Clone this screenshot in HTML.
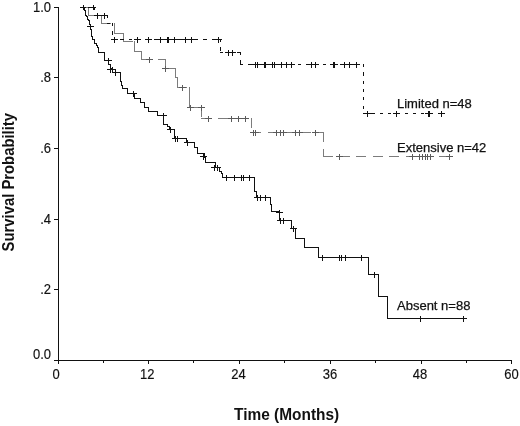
<!DOCTYPE html>
<html><head><meta charset="utf-8"><style>
html,body{margin:0;padding:0;background:#fff;width:520px;height:426px;overflow:hidden}
svg{display:block;filter:grayscale(1)}
text{font-family:"Liberation Sans",sans-serif}
</style></head><body>
<svg width="520" height="426" viewBox="0 0 520 426">
<g shape-rendering="crispEdges" stroke-width="1">
<line x1="58.5" y1="7" x2="58.5" y2="361" stroke="#111" stroke-width="1"/>
<line x1="54" y1="360.5" x2="512" y2="360.5" stroke="#111" stroke-width="1"/>
<line x1="54" y1="7.5" x2="58" y2="7.5" stroke="#111" stroke-width="1"/>
<line x1="54" y1="77.5" x2="58" y2="77.5" stroke="#111" stroke-width="1"/>
<line x1="54" y1="148.5" x2="58" y2="148.5" stroke="#111" stroke-width="1"/>
<line x1="54" y1="219.5" x2="58" y2="219.5" stroke="#111" stroke-width="1"/>
<line x1="54" y1="289.5" x2="58" y2="289.5" stroke="#111" stroke-width="1"/>
<line x1="103.5" y1="360" x2="103.5" y2="363" stroke="#111" stroke-width="1"/>
<line x1="193.5" y1="360" x2="193.5" y2="363" stroke="#111" stroke-width="1"/>
<line x1="284.5" y1="360" x2="284.5" y2="363" stroke="#111" stroke-width="1"/>
<line x1="375.5" y1="360" x2="375.5" y2="363" stroke="#111" stroke-width="1"/>
<line x1="466.5" y1="360" x2="466.5" y2="363" stroke="#111" stroke-width="1"/>
<line x1="58.5" y1="360" x2="58.5" y2="364" stroke="#111" stroke-width="1"/>
<line x1="148.5" y1="360" x2="148.5" y2="364" stroke="#111" stroke-width="1"/>
<line x1="239.5" y1="360" x2="239.5" y2="364" stroke="#111" stroke-width="1"/>
<line x1="330.5" y1="360" x2="330.5" y2="364" stroke="#111" stroke-width="1"/>
<line x1="421.5" y1="360" x2="421.5" y2="364" stroke="#111" stroke-width="1"/>
<line x1="511.5" y1="360" x2="511.5" y2="364" stroke="#111" stroke-width="1"/>
<line x1="80.5" y1="7.5" x2="88.5" y2="7.5" stroke="#7c7c7c" stroke-linecap="square" stroke-dasharray="9 7.5"/>
<line x1="88.5" y1="7.5" x2="88.5" y2="15.5" stroke="#7c7c7c" stroke-linecap="square" stroke-dasharray="9 7.5"/>
<line x1="88.5" y1="15.5" x2="101.5" y2="15.5" stroke="#7c7c7c" stroke-linecap="square" stroke-dasharray="9 7.5"/>
<line x1="101.5" y1="15.5" x2="101.5" y2="23.5" stroke="#7c7c7c" stroke-linecap="square" stroke-dasharray="9 7.5"/>
<line x1="101.5" y1="23.5" x2="114.5" y2="23.5" stroke="#7c7c7c" stroke-linecap="square" stroke-dasharray="9 7.5"/>
<line x1="114.5" y1="23.5" x2="114.5" y2="33.5" stroke="#7c7c7c" stroke-linecap="square" stroke-dasharray="9 7.5"/>
<line x1="114.5" y1="33.5" x2="123.5" y2="33.5" stroke="#7c7c7c" stroke-linecap="square" stroke-dasharray="9 7.5"/>
<line x1="123.5" y1="33.5" x2="123.5" y2="41.5" stroke="#7c7c7c" stroke-linecap="square" stroke-dasharray="9 7.5"/>
<line x1="123.5" y1="41.5" x2="134.5" y2="41.5" stroke="#7c7c7c" stroke-linecap="square" stroke-dasharray="9 7.5"/>
<line x1="134.5" y1="41.5" x2="134.5" y2="51.5" stroke="#7c7c7c" stroke-linecap="square" stroke-dasharray="9 7.5"/>
<line x1="134.5" y1="51.5" x2="141.5" y2="51.5" stroke="#7c7c7c" stroke-linecap="square" stroke-dasharray="9 7.5"/>
<line x1="141.5" y1="51.5" x2="141.5" y2="59.5" stroke="#7c7c7c" stroke-linecap="square" stroke-dasharray="9 7.5"/>
<line x1="141.5" y1="59.5" x2="165.5" y2="59.5" stroke="#7c7c7c" stroke-linecap="square" stroke-dasharray="9 7.5"/>
<line x1="165.5" y1="59.5" x2="165.5" y2="68.5" stroke="#7c7c7c" stroke-linecap="square" stroke-dasharray="9 7.5"/>
<line x1="165.5" y1="68.5" x2="175.5" y2="68.5" stroke="#7c7c7c" stroke-linecap="square" stroke-dasharray="9 7.5"/>
<line x1="175.5" y1="68.5" x2="175.5" y2="77.5" stroke="#7c7c7c" stroke-linecap="square" stroke-dasharray="9 7.5"/>
<line x1="175.5" y1="77.5" x2="177.5" y2="77.5" stroke="#7c7c7c" stroke-linecap="square" stroke-dasharray="9 7.5"/>
<line x1="177.5" y1="77.5" x2="177.5" y2="87.5" stroke="#7c7c7c" stroke-linecap="square" stroke-dasharray="9 7.5"/>
<line x1="177.5" y1="87.5" x2="189.5" y2="87.5" stroke="#7c7c7c" stroke-linecap="square" stroke-dasharray="9 7.5"/>
<line x1="189.5" y1="87.5" x2="189.5" y2="97.5" stroke="#7c7c7c" stroke-linecap="square" stroke-dasharray="9 7.5"/>
<line x1="189.5" y1="97.5" x2="189.5" y2="107.5" stroke="#7c7c7c" stroke-linecap="square" stroke-dasharray="9 7.5"/>
<line x1="189.5" y1="107.5" x2="201.5" y2="107.5" stroke="#7c7c7c" stroke-linecap="square" stroke-dasharray="9 7.5"/>
<line x1="201.5" y1="107.5" x2="201.5" y2="118.5" stroke="#7c7c7c" stroke-linecap="square" stroke-dasharray="9 7.5"/>
<line x1="201.5" y1="118.5" x2="251.5" y2="118.5" stroke="#7c7c7c" stroke-linecap="square" stroke-dasharray="9 7.5"/>
<line x1="251.5" y1="118.5" x2="251.5" y2="132.5" stroke="#7c7c7c" stroke-linecap="square" stroke-dasharray="9 7.5"/>
<line x1="251.5" y1="132.5" x2="323.5" y2="132.5" stroke="#7c7c7c" stroke-linecap="square" stroke-dasharray="9 7.5"/>
<line x1="323.5" y1="132.5" x2="323.5" y2="156.5" stroke="#7c7c7c" stroke-linecap="square" stroke-dasharray="9 7.5"/>
<line x1="323.5" y1="156.5" x2="449.5" y2="156.5" stroke="#7c7c7c" stroke-linecap="square" stroke-dasharray="9 7.5"/>
<path d="M146 59.5H153M149.5 57V63" stroke="#5a5a5a" stroke-width="1" fill="none"/>
<path d="M162 68.5H169M165.5 66V72" stroke="#5a5a5a" stroke-width="1" fill="none"/>
<path d="M179 87.5H186M182.5 85V91" stroke="#5a5a5a" stroke-width="1" fill="none"/>
<path d="M187 107.5H194M190.5 105V111" stroke="#5a5a5a" stroke-width="1" fill="none"/>
<path d="M198 107.5H205M201.5 105V111" stroke="#5a5a5a" stroke-width="1" fill="none"/>
<path d="M205 118.5H212M208.5 116V122" stroke="#5a5a5a" stroke-width="1" fill="none"/>
<path d="M228 118.5H235M231.5 116V122" stroke="#5a5a5a" stroke-width="1" fill="none"/>
<path d="M235 118.5H242M238.5 116V122" stroke="#5a5a5a" stroke-width="1" fill="none"/>
<path d="M242 118.5H249M245.5 116V122" stroke="#5a5a5a" stroke-width="1" fill="none"/>
<path d="M250 132.5H257M253.5 130V136" stroke="#5a5a5a" stroke-width="1" fill="none"/>
<path d="M252 132.5H259M255.5 130V136" stroke="#5a5a5a" stroke-width="1" fill="none"/>
<path d="M273 132.5H280M276.5 130V136" stroke="#5a5a5a" stroke-width="1" fill="none"/>
<path d="M277 132.5H284M280.5 130V136" stroke="#5a5a5a" stroke-width="1" fill="none"/>
<path d="M280 132.5H287M283.5 130V136" stroke="#5a5a5a" stroke-width="1" fill="none"/>
<path d="M292 132.5H299M295.5 130V136" stroke="#5a5a5a" stroke-width="1" fill="none"/>
<path d="M296 132.5H303M299.5 130V136" stroke="#5a5a5a" stroke-width="1" fill="none"/>
<path d="M312 132.5H319M315.5 130V136" stroke="#5a5a5a" stroke-width="1" fill="none"/>
<path d="M336 156.5H343M339.5 154V160" stroke="#5a5a5a" stroke-width="1" fill="none"/>
<path d="M409 156.5H416M412.5 154V160" stroke="#5a5a5a" stroke-width="1" fill="none"/>
<path d="M416 156.5H423M419.5 154V160" stroke="#5a5a5a" stroke-width="1" fill="none"/>
<path d="M419 156.5H426M422.5 154V160" stroke="#5a5a5a" stroke-width="1" fill="none"/>
<path d="M422 156.5H429M425.5 154V160" stroke="#5a5a5a" stroke-width="1" fill="none"/>
<path d="M424 156.5H431M427.5 154V160" stroke="#5a5a5a" stroke-width="1" fill="none"/>
<path d="M427 156.5H434M430.5 154V160" stroke="#5a5a5a" stroke-width="1" fill="none"/>
<path d="M446 156.5H453M449.5 154V160" stroke="#5a5a5a" stroke-width="1" fill="none"/>
<path d="M80.5 7.5L84.5 7.5L84.5 10.5L85.5 10.5L85.5 15.5L86.5 15.5L86.5 16.5L87.5 16.5L87.5 19.5L88.5 19.5L88.5 20.5L89.5 20.5L89.5 24.5L90.5 24.5L90.5 29.5L91.5 29.5L91.5 36.5L92.5 36.5L92.5 39.5L94.5 39.5L94.5 43.5L96.5 43.5L96.5 45.5L97.5 45.5L97.5 47.5L98.5 47.5L98.5 52.5L104.5 52.5L104.5 60.5L108.5 60.5L108.5 64.5L110.5 64.5L110.5 68.5L112.5 68.5L112.5 72.5L120.5 72.5L120.5 81.5L121.5 81.5L121.5 85.5L122.5 85.5L122.5 88.5L127.5 88.5L127.5 93.5L134.5 93.5L134.5 98.5L140.5 98.5L140.5 102.5L144.5 102.5L144.5 107.5L148.5 107.5L148.5 111.5L157.5 111.5L157.5 115.5L163.5 115.5L163.5 124.5L167.5 124.5L167.5 126.5L169.5 126.5L169.5 129.5L174.5 129.5L174.5 138.5L186.5 138.5L186.5 142.5L194.5 142.5L194.5 147.5L197.5 147.5L197.5 153.5L204.5 153.5L204.5 157.5L205.5 157.5L205.5 162.5L215.5 162.5L215.5 167.5L219.5 167.5L219.5 171.5L221.5 171.5L221.5 173.5L222.5 173.5L222.5 177.5L254.5 177.5L254.5 191.5L256.5 191.5L256.5 197.5L270.5 197.5L270.5 204.5L271.5 204.5L271.5 211.5L279.5 211.5L279.5 220.5L291.5 220.5L291.5 228.5L295.5 228.5L295.5 238.5L304.5 238.5L304.5 247.5L318.5 247.5L318.5 257.5L368.5 257.5L368.5 274.5L378.5 274.5L378.5 296.5L387.5 296.5L387.5 318.5L465.5 318.5" stroke="#111" stroke-linecap="square" fill="none"/>
<path d="M87 26.5H94M90.5 24V30" stroke="#111" stroke-width="1" fill="none"/>
<path d="M105 60.5H112M108.5 58V64" stroke="#111" stroke-width="1" fill="none"/>
<path d="M107 69.5H114M110.5 67V73" stroke="#111" stroke-width="1" fill="none"/>
<path d="M109 69.5H116M112.5 67V73" stroke="#111" stroke-width="1" fill="none"/>
<path d="M112 72.5H119M115.5 70V76" stroke="#111" stroke-width="1" fill="none"/>
<path d="M130 93.5H137M133.5 91V97" stroke="#111" stroke-width="1" fill="none"/>
<path d="M160 115.5H167M163.5 113V119" stroke="#111" stroke-width="1" fill="none"/>
<path d="M167 129.5H174M170.5 127V133" stroke="#111" stroke-width="1" fill="none"/>
<path d="M172 138.5H179M175.5 136V142" stroke="#111" stroke-width="1" fill="none"/>
<path d="M174 138.5H181M177.5 136V142" stroke="#111" stroke-width="1" fill="none"/>
<path d="M184 142.5H191M187.5 140V146" stroke="#111" stroke-width="1" fill="none"/>
<path d="M200 156.5H207M203.5 154V160" stroke="#111" stroke-width="1" fill="none"/>
<path d="M211 167.5H218M214.5 165V171" stroke="#111" stroke-width="1" fill="none"/>
<path d="M214 167.5H221M217.5 165V171" stroke="#111" stroke-width="1" fill="none"/>
<path d="M223 177.5H230M226.5 175V181" stroke="#111" stroke-width="1" fill="none"/>
<path d="M231 177.5H238M234.5 175V181" stroke="#111" stroke-width="1" fill="none"/>
<path d="M238 177.5H245M241.5 175V181" stroke="#111" stroke-width="1" fill="none"/>
<path d="M240 177.5H247M243.5 175V181" stroke="#111" stroke-width="1" fill="none"/>
<path d="M246 177.5H253M249.5 175V181" stroke="#111" stroke-width="1" fill="none"/>
<path d="M254 197.5H261M257.5 195V201" stroke="#111" stroke-width="1" fill="none"/>
<path d="M257 197.5H264M260.5 195V201" stroke="#111" stroke-width="1" fill="none"/>
<path d="M262 197.5H269M265.5 195V201" stroke="#111" stroke-width="1" fill="none"/>
<path d="M276 212.5H283M279.5 210V216" stroke="#111" stroke-width="1" fill="none"/>
<path d="M277 220.5H284M280.5 218V224" stroke="#111" stroke-width="1" fill="none"/>
<path d="M280 220.5H287M283.5 218V224" stroke="#111" stroke-width="1" fill="none"/>
<path d="M290 228.5H297M293.5 226V232" stroke="#111" stroke-width="1" fill="none"/>
<path d="M319 257.5H326M322.5 255V261" stroke="#111" stroke-width="1" fill="none"/>
<path d="M336 257.5H343M339.5 255V261" stroke="#111" stroke-width="1" fill="none"/>
<path d="M338 257.5H345M341.5 255V261" stroke="#111" stroke-width="1" fill="none"/>
<path d="M342 257.5H349M345.5 255V261" stroke="#111" stroke-width="1" fill="none"/>
<path d="M358 257.5H365M361.5 255V261" stroke="#111" stroke-width="1" fill="none"/>
<path d="M371 274.5H378M374.5 272V278" stroke="#111" stroke-width="1" fill="none"/>
<path d="M417 318.5H424M420.5 316V322" stroke="#111" stroke-width="1" fill="none"/>
<path d="M460 318.5H467M463.5 316V322" stroke="#111" stroke-width="1" fill="none"/>
<line x1="80.5" y1="7.5" x2="94.5" y2="7.5" stroke="#111" stroke-linecap="square" stroke-dasharray="2.2 6.1"/>
<line x1="94.5" y1="7.5" x2="94.5" y2="15.5" stroke="#111" stroke-linecap="square" stroke-dasharray="2.2 6.1"/>
<line x1="94.5" y1="15.5" x2="107.5" y2="15.5" stroke="#111" stroke-linecap="square" stroke-dasharray="2.2 6.1"/>
<line x1="107.5" y1="15.5" x2="107.5" y2="23.5" stroke="#111" stroke-linecap="square" stroke-dasharray="2.2 6.1"/>
<line x1="107.5" y1="23.5" x2="112.5" y2="23.5" stroke="#111" stroke-linecap="square" stroke-dasharray="2.2 6.1"/>
<line x1="112.5" y1="23.5" x2="112.5" y2="39.5" stroke="#111" stroke-linecap="square" stroke-dasharray="2.2 6.1"/>
<line x1="112.5" y1="39.5" x2="220.5" y2="39.5" stroke="#111" stroke-linecap="square" stroke-dasharray="2.2 6.1"/>
<line x1="220.5" y1="39.5" x2="220.5" y2="52.5" stroke="#111" stroke-linecap="square" stroke-dasharray="2.2 6.1"/>
<line x1="220.5" y1="52.5" x2="240.5" y2="52.5" stroke="#111" stroke-linecap="square" stroke-dasharray="2.2 6.1"/>
<line x1="240.5" y1="52.5" x2="240.5" y2="64.5" stroke="#111" stroke-linecap="square" stroke-dasharray="2.2 6.1"/>
<line x1="240.5" y1="64.5" x2="363.5" y2="64.5" stroke="#111" stroke-linecap="square" stroke-dasharray="2.2 6.1"/>
<line x1="363.5" y1="64.5" x2="363.5" y2="113.5" stroke="#111" stroke-linecap="square" stroke-dasharray="2.2 6.1"/>
<line x1="363.5" y1="113.5" x2="443.5" y2="113.5" stroke="#111" stroke-linecap="square" stroke-dasharray="2.2 6.1"/>
<path d="M94 15.5H101M97.5 13V19" stroke="#111" stroke-width="1" fill="none"/>
<path d="M101 15.5H108M104.5 13V19" stroke="#111" stroke-width="1" fill="none"/>
<path d="M111 39.5H118M114.5 37V43" stroke="#111" stroke-width="1" fill="none"/>
<path d="M134 39.5H141M137.5 37V43" stroke="#111" stroke-width="1" fill="none"/>
<path d="M145 39.5H152M148.5 37V43" stroke="#111" stroke-width="1" fill="none"/>
<path d="M157 39.5H164M160.5 37V43" stroke="#111" stroke-width="1" fill="none"/>
<path d="M164 39.5H171M167.5 37V43" stroke="#111" stroke-width="1" fill="none"/>
<path d="M165 39.5H172M168.5 37V43" stroke="#111" stroke-width="1" fill="none"/>
<path d="M171 39.5H178M174.5 37V43" stroke="#111" stroke-width="1" fill="none"/>
<path d="M182 39.5H189M185.5 37V43" stroke="#111" stroke-width="1" fill="none"/>
<path d="M188 39.5H195M191.5 37V43" stroke="#111" stroke-width="1" fill="none"/>
<path d="M215 39.5H222M218.5 37V43" stroke="#111" stroke-width="1" fill="none"/>
<path d="M225 52.5H232M228.5 50V56" stroke="#111" stroke-width="1" fill="none"/>
<path d="M229 52.5H236M232.5 50V56" stroke="#111" stroke-width="1" fill="none"/>
<path d="M252 64.5H259M255.5 62V68" stroke="#111" stroke-width="1" fill="none"/>
<path d="M254 64.5H261M257.5 62V68" stroke="#111" stroke-width="1" fill="none"/>
<path d="M261 64.5H268M264.5 62V68" stroke="#111" stroke-width="1" fill="none"/>
<path d="M262 64.5H269M265.5 62V68" stroke="#111" stroke-width="1" fill="none"/>
<path d="M269 64.5H276M272.5 62V68" stroke="#111" stroke-width="1" fill="none"/>
<path d="M271 64.5H278M274.5 62V68" stroke="#111" stroke-width="1" fill="none"/>
<path d="M278 64.5H285M281.5 62V68" stroke="#111" stroke-width="1" fill="none"/>
<path d="M283 64.5H290M286.5 62V68" stroke="#111" stroke-width="1" fill="none"/>
<path d="M288 64.5H295M291.5 62V68" stroke="#111" stroke-width="1" fill="none"/>
<path d="M308 64.5H315M311.5 62V68" stroke="#111" stroke-width="1" fill="none"/>
<path d="M312 64.5H319M315.5 62V68" stroke="#111" stroke-width="1" fill="none"/>
<path d="M330 64.5H337M333.5 62V68" stroke="#111" stroke-width="1" fill="none"/>
<path d="M331 64.5H338M334.5 62V68" stroke="#111" stroke-width="1" fill="none"/>
<path d="M341 64.5H348M344.5 62V68" stroke="#111" stroke-width="1" fill="none"/>
<path d="M346 64.5H353M349.5 62V68" stroke="#111" stroke-width="1" fill="none"/>
<path d="M353 64.5H360M356.5 62V68" stroke="#111" stroke-width="1" fill="none"/>
<path d="M364 113.5H371M367.5 111V117" stroke="#111" stroke-width="1" fill="none"/>
<path d="M393 113.5H400M396.5 111V117" stroke="#111" stroke-width="1" fill="none"/>
<path d="M425 113.5H432M428.5 111V117" stroke="#111" stroke-width="1" fill="none"/>
<path d="M426 113.5H433M429.5 111V117" stroke="#111" stroke-width="1" fill="none"/>
<path d="M438 113.5H445M441.5 111V117" stroke="#111" stroke-width="1" fill="none"/>
<path d="M81 7.5H86M83.5 5V10" stroke="#111" fill="none"/>
<path d="M91 7.5H96M93.5 5V10" stroke="#111" fill="none"/>
</g>
<g fill="#111" stroke="#111" stroke-width="0.25">
<text transform="translate(51,11.7) scale(1,1.1)" text-anchor="end" font-size="13" stroke-width="0.15">1.0</text>
<text transform="translate(51,82.3) scale(1,1.1)" text-anchor="end" font-size="13" stroke-width="0.15">.8</text>
<text transform="translate(51,153) scale(1,1.1)" text-anchor="end" font-size="13" stroke-width="0.15">.6</text>
<text transform="translate(51,223.5) scale(1,1.1)" text-anchor="end" font-size="13" stroke-width="0.15">.4</text>
<text transform="translate(51,294) scale(1,1.1)" text-anchor="end" font-size="13" stroke-width="0.15">.2</text>
<text transform="translate(51,359) scale(1,1.1)" text-anchor="end" font-size="13" stroke-width="0.15">0.0</text>
<text transform="translate(56,378.5) scale(1,1.1)" text-anchor="middle" font-size="13" stroke-width="0.15">0</text>
<text transform="translate(147.2,378.5) scale(1,1.1)" text-anchor="middle" font-size="13" stroke-width="0.15">12</text>
<text transform="translate(238.5,378.5) scale(1,1.1)" text-anchor="middle" font-size="13" stroke-width="0.15">24</text>
<text transform="translate(330,378.5) scale(1,1.1)" text-anchor="middle" font-size="13" stroke-width="0.15">36</text>
<text transform="translate(420,378.5) scale(1,1.1)" text-anchor="middle" font-size="13" stroke-width="0.15">48</text>
<text transform="translate(511.5,378.5) scale(1,1.1)" text-anchor="middle" font-size="13" stroke-width="0.15">60</text>
<text x="397" y="107.6" font-size="13">Limited n=48</text>
<text x="397" y="151.9" font-size="13">Extensive n=42</text>
<text x="397" y="310.4" font-size="13">Absent n=88</text>
<text transform="translate(286.6,420.4) scale(0.935,1)" text-anchor="middle" font-size="16.5" font-weight="bold" stroke="none">Time (Months)</text>
<text transform="translate(14.2,182.2) rotate(-90) scale(0.945,1)" text-anchor="middle" font-size="15.7" font-weight="bold" stroke="none">Survival Probability</text>
</g>
</svg>
</body></html>
